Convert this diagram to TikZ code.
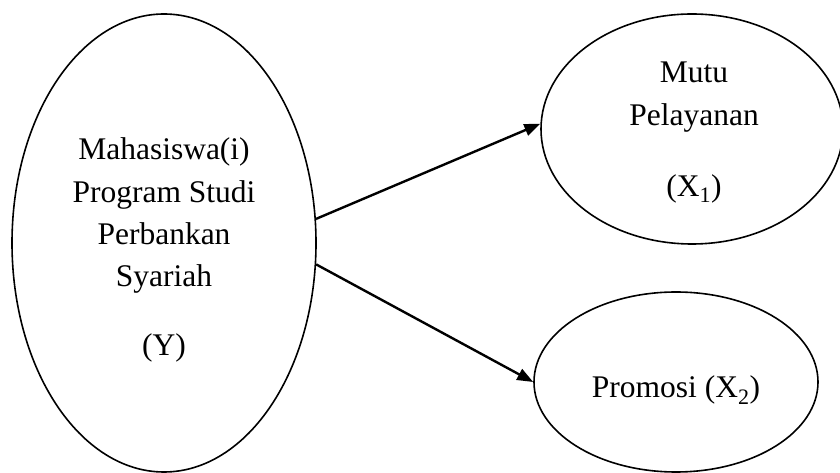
\documentclass[tikz,border=0pt]{standalone}
\usepackage{fontspec}
\setmainfont{Liberation Serif}
\usetikzlibrary{shapes.geometric,arrows.meta}
\tikzset{
  oval/.style={draw, ellipse, line width=1.6pt, inner sep=0pt},
  lbl/.style={anchor=base, inner sep=0pt, font=\fontsize{31.5}{36}\selectfont},
  conn/.style={line width=2.4pt, -{Triangle[length=16pt,width=12pt]}}
}
\begin{document}
\begin{tikzpicture}[x=1pt,y=1pt]
\useasboundingbox (0,0) rectangle (840,473);
\node[oval, minimum width=304pt, minimum height=458pt] (L) at (164,230) {};
\node[oval, minimum width=302pt, minimum height=230pt] (T) at (692,344) {};
\node[oval, minimum width=284pt, minimum height=180pt] (B) at (676,91) {};
% left texts
\node[lbl] (l1) at (164,313) {Mahasiswa(i)};
\node[lbl] (l2) at (164,270) {Program Studi};
\node[lbl] (l3) at (164,228) {Perbankan};
\node[lbl] (l4) at (164,186) {Syariah};
\node[lbl] (l5) at (164,117) {(Y)};
% top right texts
\node[lbl] (t1) at (694,390) {Mutu};
\node[lbl] (t2) at (694,347) {Pelayanan};
\node[lbl] (t3) at (694,276) {(X\textsubscript{1})};
% bottom right text
\node[lbl] (b1) at (676,75) {Promosi (X\textsubscript{2})};
\draw[conn] (L.9) -- (T.178);
\draw[conn] (L.-8) -- (B.180);
\end{tikzpicture}
\end{document}
